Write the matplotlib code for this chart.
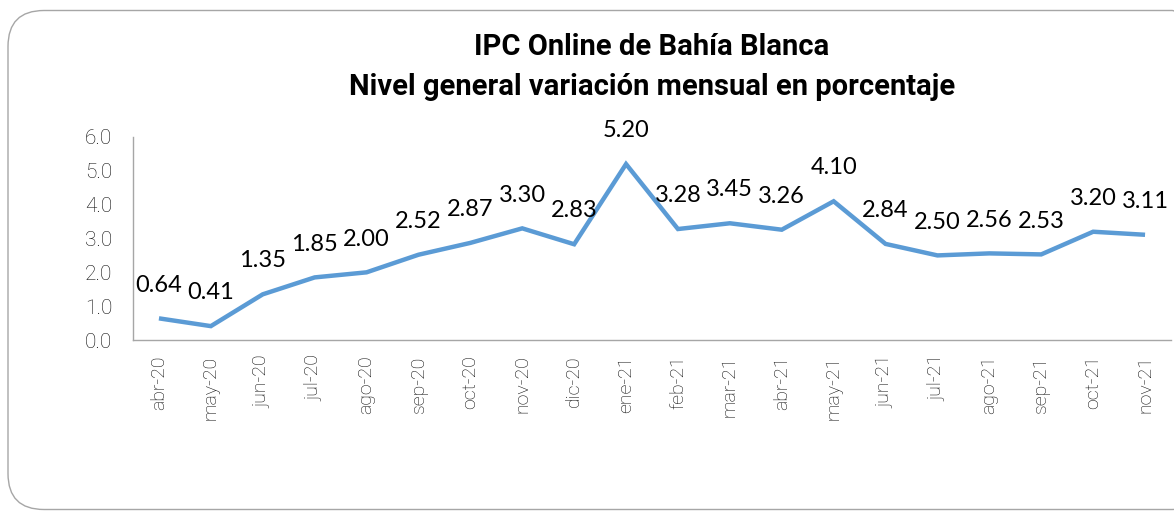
import matplotlib
matplotlib.use('Agg')
import matplotlib.pyplot as plt
from matplotlib.patches import FancyBboxPatch
import numpy as np

months = ['abr-20', 'may-20', 'jun-20', 'jul-20', 'ago-20', 'sep-20', 'oct-20',
          'nov-20', 'dic-20', 'ene-21', 'feb-21', 'mar-21', 'abr-21', 'may-21',
          'jun-21', 'jul-21', 'ago-21', 'sep-21', 'oct-21', 'nov-21']
variacion = [0.64, 0.41, 1.35, 1.85, 2.00, 2.52, 2.87, 3.30, 2.83, 5.20,
             3.28, 3.45, 3.26, 4.10, 2.84, 2.50, 2.56, 2.53, 3.20, 3.11]
yticks = [0.0, 1.0, 2.0, 3.0, 4.0, 5.0, 6.0]

W, H = 1174, 512
fig = plt.figure(figsize=(W / 100, H / 100), dpi=100)

# rounded outer frame, in inches (right side runs off the image like the original)
frame = FancyBboxPatch((0.08, 0.025), 12.0, 4.99,
                       boxstyle='round,pad=0,rounding_size=0.36',
                       transform=fig.dpi_scale_trans, fill=False,
                       edgecolor='#a6a6a6', linewidth=1.0)
fig.patches.append(frame)

ax = fig.add_axes([133 / W, 1 - 340 / H, (1171 - 133) / W, (340 - 137) / H])
x = np.arange(len(months))
ax.plot(x, variacion, color='#5b9bd5', linewidth=3.2, solid_joinstyle='miter',
        solid_capstyle='butt')

for xi, v in zip(x, variacion):
    ax.annotate('{:.2f}'.format(v), (xi, v), xytext=(0, 24),
                textcoords='offset points', ha='center', va='center',
                fontsize=17, family='Lato', color='black')

ax.set_xlim(-0.5, 19.5)
ax.set_ylim(0, 6)
ax.set_yticks(yticks)
ax.set_yticklabels(['{:.1f}'.format(t) for t in yticks],
                   fontsize=15, family='Roboto', fontweight='light',
                   color='#0d0d0d')
ax.set_xticks(x)
ax.set_xticklabels(months, rotation=90, fontsize=14, family='Roboto',
                   fontweight='light', color='#0d0d0d')
ax.tick_params(axis='both', length=0)
ax.tick_params(axis='y', pad=15)
ax.tick_params(axis='x', pad=11)

for side in ['top', 'right']:
    ax.spines[side].set_visible(False)
for side in ['left', 'bottom']:
    ax.spines[side].set_color('#a6a6a6')
    ax.spines[side].set_linewidth(1.0)

fig.text(652 / W, 1 - 47 / H, 'IPC Online de Bahía Blanca', ha='center',
         va='center', fontsize=21, family='Roboto', fontweight='bold')
fig.text(652 / W, 1 - 87 / H, 'Nivel general variación mensual en porcentaje',
         ha='center', va='center', fontsize=21, family='Roboto',
         fontweight='bold')

fig.savefig('out.png', dpi=100)
